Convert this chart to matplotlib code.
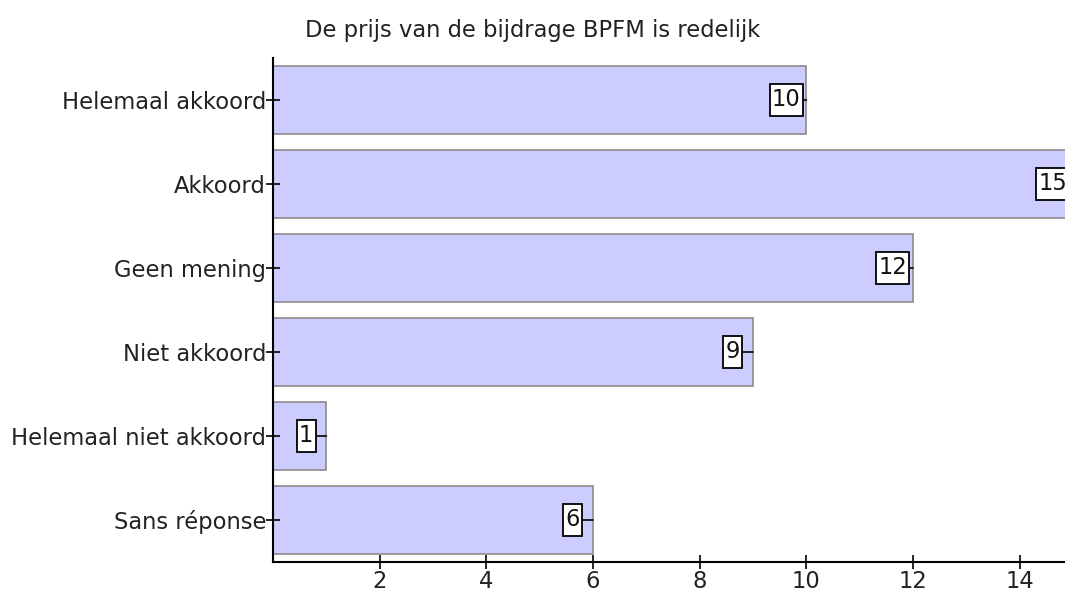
import matplotlib
matplotlib.use('Agg')

import matplotlib.pyplot as plt
from matplotlib.path import Path

categories = ["Helemaal akkoord", "Akkoord", "Geen mening", "Niet akkoord",
              "Helemaal niet akkoord", "Sans réponse"]
counts = [10, 15, 12, 9, 1, 6]
xticks = [2, 4, 6, 8, 10, 12, 14]
title = "De prijs van de bijdrage BPFM is redelijk"

plt.rcParams['font.family'] = 'DejaVu Sans'
fs = 16.3


def label_box(x0, y0, width, height, mutation_size):
    # square box, a bit more room above and below than at the sides
    px = 0.1 * mutation_size
    py = 0.2 * mutation_size
    x0, x1 = x0 - px, x0 + width + px
    y0, y1 = y0 - py, y0 + height + py
    return Path([(x0, y0), (x1, y0), (x1, y1), (x0, y1), (x0, y0)], closed=True)


fig = plt.figure(figsize=(10.65, 6.05), dpi=100)
# axes run past the right edge, like the original
ax = fig.add_axes([273 / 1065, 43 / 605, 800 / 1065, 504 / 605])

ypos = list(range(len(categories)))
ax.barh(ypos, counts, height=0.81, color="#ccccff", edgecolor="#8c8c8c", linewidth=1.2)

for y, v in zip(ypos, counts):
    ax.annotate(str(v), xy=(v, y), xytext=(-14.5, 0), textcoords="offset points",
                ha="center", va="center", fontsize=fs, color="#111111",
                bbox=dict(boxstyle=label_box, fc="white", ec="black", lw=1.3),
                arrowprops=dict(arrowstyle="-", color="black", lw=1.2,
                                shrinkA=0, shrinkB=0))

ax.set_xlim(0, 15)
ax.set_ylim(len(categories) - 0.5, -0.5)
ax.set_yticks(ypos)
ax.set_yticklabels(categories, fontsize=fs, color="#222222")
ax.set_xticks(xticks)
ax.set_xticklabels([str(t) for t in xticks], fontsize=fs, color="#222222")
ax.tick_params(direction="inout", length=10, width=1.2)
ax.tick_params(axis="y", pad=0)
ax.tick_params(axis="x", pad=1)

for s in ["top", "right"]:
    ax.spines[s].set_visible(False)
for s in ["left", "bottom"]:
    ax.spines[s].set_linewidth(1.5)

fig.text(0.5, 1 - 30 / 605, title, ha="center", va="center", fontsize=fs, color="#222222")

plt.savefig("out.png", dpi=100)
plt.close()
